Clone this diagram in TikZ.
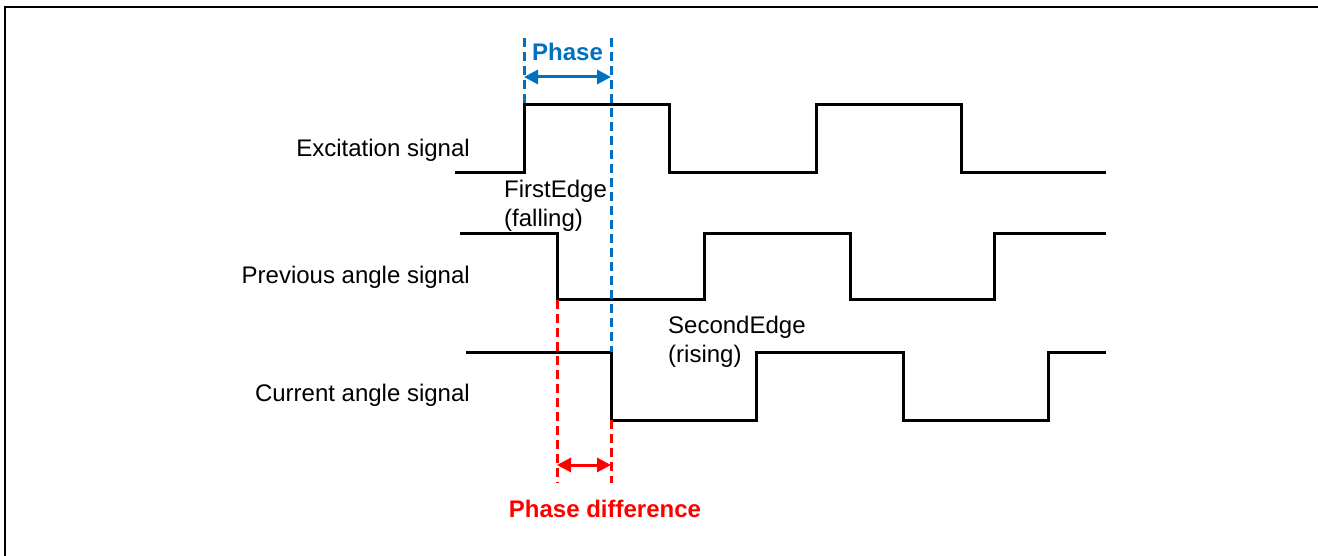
\documentclass[tikz,border=0pt]{standalone}
\usepackage{fontspec}
\setmainfont{Liberation Sans}
\usetikzlibrary{arrows.meta}
\definecolor{phaseblue}{RGB}{0,112,192}
\definecolor{phasered}{RGB}{255,0,0}
\tikzset{
  wave/.style={line width=3pt, black, line join=miter},
  frameline/.style={line width=2.6pt, black},
  bluedash/.style={line width=3pt, phaseblue, dash pattern=on 9pt off 5pt},
  reddash/.style={line width=3pt, phasered, dash pattern=on 9pt off 5pt},
  dimarrow/.style={line width=3pt, {Triangle[length=14pt,width=14pt]}-{Triangle[length=14pt,width=14pt]}},
  sig/.style={anchor=east, inner sep=0pt, font=\fontsize{24}{28.5}\selectfont},
  note/.style={anchor=west, inner sep=0pt, align=left, font=\fontsize{24}{28.5}\selectfont},
  boldlab/.style={inner sep=0pt, font=\fontsize{24}{28.5}\selectfont\bfseries}
}
\begin{document}
\begin{tikzpicture}[x=1pt,y=-1pt]
\useasboundingbox (0,0) rectangle (1318,556);
% frame (top and left)
\coordinate (fbl) at (5,556);
\coordinate (ftl) at (5,7);
\coordinate (ftr) at (1318,7);
\draw[frameline] (fbl) -- (ftl) -- (ftr);

% labels
\node[sig] (lexc) at (470,150) {Excitation signal};
\node[sig] (lprev) at (470,277) {Previous angle signal};
\node[sig] (lcur) at (470,395) {Current angle signal};
\node[note] (first) at (504,206) {FirstEdge\\(falling)};
\node[note] (second) at (668,342) {SecondEdge\\(rising)};

% excitation signal
\draw[wave] (455,173) -- (524,173) -- (524,105) -- (669,105) -- (669,173)
  -- (816,173) -- (816,105) -- (961,105) -- (961,173) -- (1106,173);
% previous angle signal
\draw[wave] (460,234) -- (557,234) -- (557,300) -- (704,300) -- (704,234)
  -- (850,234) -- (850,300) -- (994,300) -- (994,234) -- (1106,234);
% current angle signal
\draw[wave] (466,352) -- (611,352) -- (611,420) -- (756,420) -- (756,352)
  -- (903,352) -- (903,420) -- (1048,420) -- (1048,352) -- (1106,352);

% phase (blue)
\coordinate (b1top) at (524,38);
\coordinate (b1bot) at (524,105);
\coordinate (b2top) at (611,38);
\coordinate (b2bot) at (611,352);
\draw[bluedash] (b1top) -- (b1bot);
\draw[bluedash] (b2top) -- (b2bot);
\coordinate (ba) at (524,77);
\coordinate (bb) at (611,77);
\draw[dimarrow, phaseblue] (ba) -- (bb);
\node[boldlab, text=phaseblue] (phase) at (567.5,52) {Phase};

% phase difference (red)
\coordinate (r1top) at (557,300);
\coordinate (r1bot) at (557,483);
\coordinate (r2top) at (611,420);
\coordinate (r2bot) at (611,483);
\draw[reddash] (r1top) -- (r1bot);
\draw[reddash] (r2top) -- (r2bot);
\coordinate (ra) at (557,465);
\coordinate (rb) at (611,465);
\draw[dimarrow, phasered] (ra) -- (rb);
\node[boldlab, text=phasered] (phdiff) at (605,509) {Phase difference};
\end{tikzpicture}
\end{document}
